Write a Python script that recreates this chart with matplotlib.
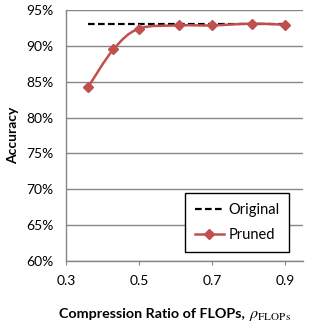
import matplotlib
matplotlib.use('Agg')
import matplotlib.pyplot as plt
import numpy as np
from matplotlib.lines import Line2D
from matplotlib.path import Path
from matplotlib.patches import PathPatch

# values
ratio = [0.36, 0.43, 0.50, 0.61, 0.70, 0.81, 0.90]
pruned_acc = [84.2, 89.5, 92.4, 92.85, 92.85, 93.1, 92.95]
original_x = [0.36, 0.90]
original_acc = [93.0, 93.0]
yticks = [60, 65, 70, 75, 80, 85, 90, 95]
xticks = [0.3, 0.5, 0.7, 0.9]

RED = '#C0504D'
GRID = '#868686'

plt.rcParams['font.family'] = ['Lato', 'DejaVu Sans']
plt.rcParams['mathtext.fontset'] = 'stix'


def smooth_path(xs, ys):
    # excel style smoothed line: cubic bezier segments through the points
    pts = np.column_stack([xs, ys])
    n = len(pts)
    verts = [pts[0]]
    codes = [Path.MOVETO]
    for i in range(n - 1):
        p0 = pts[max(i - 1, 0)]
        p1 = pts[i]
        p2 = pts[i + 1]
        p3 = pts[min(i + 2, n - 1)]
        c1 = p1 + (p2 - p0) / 6.0
        c2 = p2 - (p3 - p1) / 6.0
        verts += [c1, c2, p2]
        codes += [Path.CURVE4] * 3
    return Path(verts, codes)


fig = plt.figure(figsize=(3.09, 3.29), dpi=100)
ax = fig.add_axes([66 / 309, 68 / 329, 237 / 309, 251 / 329])

ax.plot(original_x, original_acc, '--', color='black', lw=1.6, dashes=(3, 1.5), zorder=3)
ax.add_patch(PathPatch(smooth_path(ratio, pruned_acc), fill=False, edgecolor=RED, lw=1.8, zorder=4))
ax.plot(ratio, pruned_acc, 'D', color=RED, markersize=5.5, zorder=5)

ax.set_xlim(0.3, 0.95)
ax.set_ylim(60, 95)
ax.set_xticks(xticks)
ax.set_xticklabels(['%.1f' % v for v in xticks])
ax.set_yticks(yticks)
ax.set_yticklabels(['%d%%' % v for v in yticks])
ax.yaxis.grid(True, color=GRID, lw=1)
ax.set_axisbelow(True)

for side in ['top', 'right']:
    ax.spines[side].set_visible(False)
for side in ['left', 'bottom']:
    ax.spines[side].set_color(GRID)
    ax.spines[side].set_linewidth(1)
ax.tick_params(axis='y', length=0, pad=9, labelsize=10)
ax.tick_params(axis='x', length=3, pad=7, labelsize=10, color=GRID, direction='out')

ax.set_ylabel('Accuracy', fontsize=10, fontweight='bold', labelpad=5)

# x label in two parts: bold text and a larger serif symbol
fig.text(245 / 309, 11 / 329, 'Compression Ratio of FLOPs,', ha='right', va='baseline',
         fontsize=10.3, fontweight='bold')
fig.text(249 / 309, 11 / 329, r'$\rho_{\mathrm{FLOPs}}$', ha='left', va='baseline',
         fontsize=11.5)

handles = [
    Line2D([], [], color='black', ls='--', lw=1.6, dashes=(3, 1.5)),
    Line2D([], [], color=RED, lw=1.8, marker='D', markersize=5.5),
]
leg = ax.legend(handles, ['Original', 'Pruned'], loc='lower right',
                bbox_to_anchor=(0.941, 0.036), borderaxespad=0, fancybox=False,
                framealpha=1, edgecolor='black', fontsize=10.5, handlelength=2.0,
                handletextpad=0.3, labelspacing=0.8, borderpad=0.65)
leg.get_frame().set_linewidth(1)

fig.savefig('out.png', dpi=100)
